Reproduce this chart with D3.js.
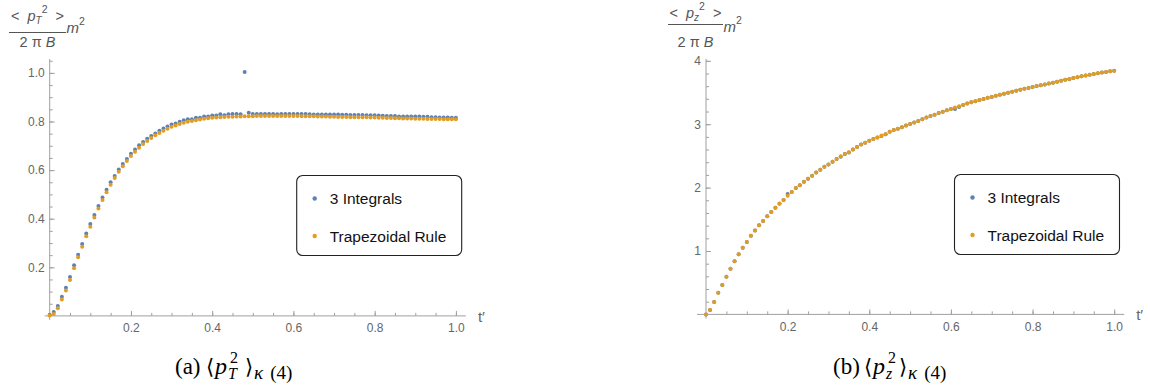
<!DOCTYPE html>
<html lang="en">
<head>
    <meta charset="UTF-8">
    <script src="https://cdn.jsdelivr.net/npm/d3@7"></script>
    <title>p2 kappa(4)</title>
    <style>
        body { margin: 0; background: #fff; }
        svg { display: block; font-family: "Liberation Sans", Arial, sans-serif; }
    </style>
</head>
<body>
    <svg></svg>
    <script>
        // sample grid t' (step 0.01)
        const tGrid = d3.range(0, 101).map(i => i / 100);

        // (a) <pT^2> : "3 Integrals" and "Trapezoidal Rule"
        const ptIntegrals = [
            0.005, 0.016, 0.041, 0.079, 0.116, 0.160, 0.208, 0.252, 0.296, 0.339,
            0.378, 0.415, 0.452, 0.487, 0.519, 0.550, 0.576, 0.602, 0.625, 0.646,
            0.667, 0.685, 0.702, 0.716, 0.729, 0.740, 0.751, 0.762, 0.771, 0.779,
            0.788, 0.792, 0.799, 0.805, 0.809, 0.809, 0.815, 0.815, 0.821, 0.821,
            0.825, 0.825, 0.830, 0.826, 0.830, 0.831, 0.831, 0.830, 1.004, 0.836,
            0.831, 0.831, 0.831, 0.831, 0.831, 0.831, 0.830, 0.831, 0.831, 0.831,
            0.831, 0.831, 0.831, 0.831, 0.830, 0.829, 0.829, 0.829, 0.829, 0.829,
            0.829, 0.829, 0.828, 0.828, 0.827, 0.827, 0.827, 0.827, 0.826, 0.826,
            0.826, 0.825, 0.824, 0.823, 0.823, 0.823, 0.821, 0.821, 0.821, 0.821,
            0.821, 0.821, 0.820, 0.820, 0.818, 0.818, 0.816, 0.816, 0.816, 0.815,
            0.815
        ];
        const ptTrapezoid = [
            0.002, 0.008, 0.031, 0.067, 0.105, 0.148, 0.196, 0.241, 0.285, 0.328,
            0.367, 0.405, 0.442, 0.477, 0.509, 0.540, 0.567, 0.593, 0.616, 0.637,
            0.658, 0.676, 0.692, 0.707, 0.720, 0.732, 0.743, 0.753, 0.762, 0.770,
            0.778, 0.784, 0.790, 0.795, 0.799, 0.802, 0.805, 0.808, 0.811, 0.813,
            0.815, 0.816, 0.818, 0.819, 0.820, 0.820, 0.821, 0.821, 0.822, 0.822,
            0.822, 0.823, 0.823, 0.823, 0.823, 0.823, 0.823, 0.823, 0.823, 0.823,
            0.823, 0.823, 0.822, 0.822, 0.822, 0.822, 0.821, 0.821, 0.821, 0.820,
            0.820, 0.819, 0.819, 0.819, 0.818, 0.818, 0.817, 0.817, 0.817, 0.816,
            0.816, 0.815, 0.815, 0.814, 0.814, 0.813, 0.813, 0.812, 0.812, 0.812,
            0.811, 0.811, 0.811, 0.810, 0.810, 0.810, 0.810, 0.809, 0.809, 0.809,
            0.809
        ];

        // (b) <pz^2>
        const pzIntegrals = [
            0.000, 0.070, 0.196, 0.340, 0.465, 0.595, 0.720, 0.840, 0.948, 1.052,
            1.140, 1.240, 1.325, 1.405, 1.475, 1.550, 1.615, 1.683, 1.745, 1.805,
            1.900, 1.930, 1.992, 2.038, 2.094, 2.140, 2.185, 2.240, 2.283, 2.328,
            2.365, 2.408, 2.450, 2.488, 2.528, 2.552, 2.600, 2.640, 2.680, 2.708,
            2.740, 2.765, 2.792, 2.812, 2.843, 2.880, 2.908, 2.930, 2.952, 2.978,
            3.003, 3.028, 3.050, 3.078, 3.104, 3.128, 3.150, 3.175, 3.198, 3.220,
            3.240, 3.240, 3.272, 3.303, 3.325, 3.345, 3.362, 3.380, 3.398, 3.416,
            3.430, 3.450, 3.466, 3.482, 3.498, 3.513, 3.528, 3.543, 3.558, 3.572,
            3.587, 3.601, 3.614, 3.628, 3.642, 3.655, 3.670, 3.685, 3.700, 3.708,
            3.729, 3.742, 3.755, 3.768, 3.780, 3.792, 3.803, 3.814, 3.824, 3.834,
            3.844
        ];
        const pzTrapezoid = [
            0.000, 0.070, 0.196, 0.340, 0.465, 0.595, 0.720, 0.840, 0.948, 1.052,
            1.140, 1.240, 1.325, 1.405, 1.475, 1.550, 1.615, 1.683, 1.750, 1.805,
            1.870, 1.930, 1.992, 2.038, 2.094, 2.140, 2.185, 2.240, 2.283, 2.328,
            2.365, 2.408, 2.450, 2.493, 2.528, 2.558, 2.600, 2.640, 2.680, 2.708,
            2.740, 2.765, 2.792, 2.820, 2.843, 2.880, 2.908, 2.930, 2.952, 2.978,
            3.003, 3.028, 3.050, 3.078, 3.104, 3.128, 3.150, 3.175, 3.198, 3.220,
            3.240, 3.262, 3.283, 3.303, 3.325, 3.345, 3.362, 3.380, 3.398, 3.416,
            3.434, 3.450, 3.466, 3.482, 3.498, 3.513, 3.528, 3.543, 3.558, 3.572,
            3.587, 3.601, 3.614, 3.628, 3.642, 3.655, 3.670, 3.685, 3.700, 3.714,
            3.729, 3.742, 3.755, 3.768, 3.780, 3.792, 3.803, 3.814, 3.824, 3.834,
            3.844
        ];

        const seriesNames = ['3 Integrals', 'Trapezoidal Rule'];
        const seriesColors = ['#5e81b5', '#e19c24'];

        const xMajor = [0.2, 0.4, 0.6, 0.8, 1.0];
        const xMinor = d3.range(0.05, 1.001, 0.05);
        const ptYMajor = [0.2, 0.4, 0.6, 0.8, 1.0];
        const ptYMinor = d3.range(0.05, 1.051, 0.05);
        const pzYMajor = [1, 2, 3, 4];
        const pzYMinor = d3.range(0.2, 4.01, 0.2);

        const svg = d3.select('svg').attr('width', 1150).attr('height', 387);
        svg.append('rect').attr('width', 1150).attr('height', 387).attr('fill', '#fff');

        const axisColor = '#a0a0a0';
        const labelColor = '#666';

        function drawPanel(p) {
            const x = d3.scaleLinear().domain([0, 1]).range(p.xRange);
            const y = d3.scaleLinear().domain(p.yDomain).range(p.yRange);
            const g = svg.append('g');

            // axis lines (a little overhang at the origin, like Mathematica)
            g.append('line')
                .attr('x1', x(0) - p.overhang).attr('x2', x(1) + 10)
                .attr('y1', y(0)).attr('y2', y(0))
                .attr('stroke', axisColor);
            g.append('line')
                .attr('x1', x(0)).attr('x2', x(0))
                .attr('y1', y(0) + 4).attr('y2', y(p.yTop))
                .attr('stroke', axisColor);

            // x ticks (pointing up, inside)
            const xMin = g.append('g').attr('transform', `translate(0,${y(0)})`)
                .call(d3.axisBottom(x).tickValues(xMinor).tickSize(-3).tickFormat(''));
            const xMaj = g.append('g').attr('transform', `translate(0,${y(0)})`)
                .call(d3.axisBottom(x).tickValues(xMajor).tickSize(-5).tickPadding(8)
                    .tickFormat(d3.format('.1f')));
            // y ticks (pointing right)
            const yMin = g.append('g').attr('transform', `translate(${x(0)},0)`)
                .call(d3.axisLeft(y).tickValues(p.yMinor).tickSize(-3).tickFormat(''));
            const yMaj = g.append('g').attr('transform', `translate(${x(0)},0)`)
                .call(d3.axisLeft(y).tickValues(p.yMajor).tickSize(-5).tickPadding(5)
                    .tickFormat(p.yFormat));
            [xMin, xMaj, yMin, yMaj].forEach(a => {
                a.select('.domain').remove();
                a.selectAll('line').attr('stroke', axisColor);
                a.selectAll('text').attr('fill', labelColor)
                    .attr('font-size', 12).attr('font-family', '"Liberation Sans", Arial, sans-serif');
            });

            g.append('text')
                .attr('x', x(1) + 22).attr('y', y(0) + 6)
                .attr('fill', labelColor).attr('font-size', 15)
                .text('t\u2032');

            // points
            p.series.forEach((vals, k) => {
                g.append('g').selectAll('circle')
                    .data(vals)
                    .enter()
                    .append('circle')
                    .attr('cx', (d, i) => x(tGrid[i]))
                    .attr('cy', d => y(d))
                    .attr('r', 2)
                    .attr('fill', seriesColors[k]);
            });

            // legend
            const lg = g.append('g').attr('transform', `translate(${p.legend[0]},${p.legend[1]})`);
            lg.append('rect')
                .attr('width', 165).attr('height', 80).attr('rx', 6)
                .attr('fill', '#fff').attr('stroke', '#222').attr('stroke-width', 1.1);
            seriesNames.forEach((name, k) => {
                lg.append('circle').attr('cx', 18).attr('cy', 23 + k * 37.5)
                    .attr('r', 2.2).attr('fill', seriesColors[k]);
                lg.append('text').attr('x', 33).attr('y', 28.5 + k * 37.5)
                    .attr('font-size', 15.5).attr('fill', '#111')
                    .text(name);
            });

            // y label: < p_s^2 > / (2 pi B) m^2
            const yl = g.append('g').attr('fill', '#555').attr('font-size', 14.5);
            const cx = p.frac.cx;
            const num = yl.append('text').attr('x', cx).attr('y', p.frac.numY).attr('text-anchor', 'middle')
                .attr('xml:space', 'preserve');
            num.append('tspan').text('<  ');
            num.append('tspan').attr('font-style', 'italic').text('p');
            num.append('tspan').attr('font-style', 'italic').attr('font-size', 10).attr('dy', 3).text(p.sub);
            num.append('tspan').attr('font-size', 10.5).attr('dy', -11).text('2');
            num.append('tspan').attr('dy', 8).text('  >');
            yl.append('line')
                .attr('x1', cx - p.frac.half).attr('x2', cx + p.frac.half)
                .attr('y1', p.frac.lineY).attr('y2', p.frac.lineY)
                .attr('stroke', '#555').attr('stroke-width', 1);
            const den = yl.append('text').attr('x', cx).attr('y', 46.5).attr('text-anchor', 'middle')
                .attr('xml:space', 'preserve');
            den.append('tspan').text('2 \u03c0 ');
            den.append('tspan').attr('font-style', 'italic').text('B');
            const m = yl.append('text').attr('x', cx + p.frac.half + 0.5).attr('y', p.frac.mY);
            m.append('tspan').attr('font-style', 'italic').attr('font-size', 15).text('m');
            m.append('tspan').attr('font-size', 10.5).attr('dy', -8).text('2');

            // caption
            const cap = g.append('g')
                .attr('font-family', '"Liberation Serif", "Times New Roman", serif')
                .attr('fill', '#000');
            const c0 = p.caption.x, base = 374;
            cap.append('text').attr('x', c0).attr('y', base).attr('font-size', 23).text(p.caption.tag);
            cap.append('text').attr('x', c0 + 31).attr('y', base)
                .attr('font-family', '"DejaVu Serif", serif').attr('font-size', 21).text('\u27e8');
            cap.append('text').attr('x', c0 + 40).attr('y', base).attr('font-size', 24)
                .attr('font-style', 'italic').text('p');
            cap.append('text').attr('x', c0 + 55).attr('y', base - 11).attr('font-size', 16).text('2');
            cap.append('text').attr('x', c0 + 53).attr('y', base + 5).attr('font-size', 16)
                .attr('font-style', 'italic').text(p.sub);
            cap.append('text').attr('x', c0 + p.caption.close).attr('y', base)
                .attr('font-family', '"DejaVu Serif", serif').attr('font-size', 21).text('\u27e9');
            const kap = cap.append('text').attr('x', c0 + p.caption.close + 9).attr('y', base + 5).attr('font-size', 19);
            kap.append('tspan').attr('font-style', 'italic').text('\u03ba');
            kap.append('tspan').attr('dx', 7).text('(4)');
        }

        drawPanel({
            xRange: [49.7, 455.9], yDomain: [0, 1], yRange: [315.9, 72.9], yTop: 1.057,
            yMajor: ptYMajor, yMinor: ptYMinor, yFormat: d3.format('.1f'), overhang: 5,
            series: [ptIntegrals, ptTrapezoid],
            legend: [296.7, 175.5],
            sub: 'T',
            frac: { cx: 37.5, half: 28.5, numY: 21, lineY: 32.5, mY: 33 },
            caption: { x: 175, tag: '(a)', close: 70 }
        });

        drawPanel({
            xRange: [706, 1114.2], yDomain: [0, 4], yRange: [314.4, 60.8], yTop: 4.03,
            yMajor: pzYMajor, yMinor: pzYMinor, yFormat: d3.format('d'), overhang: 9,
            series: [pzIntegrals, pzTrapezoid],
            legend: [954.5, 174.5],
            sub: 'z',
            frac: { cx: 695.5, half: 27.5, numY: 18, lineY: 24.5, mY: 32 },
            caption: { x: 833, tag: '(b)', close: 66 }
        });
    </script>
</body>
</html>
